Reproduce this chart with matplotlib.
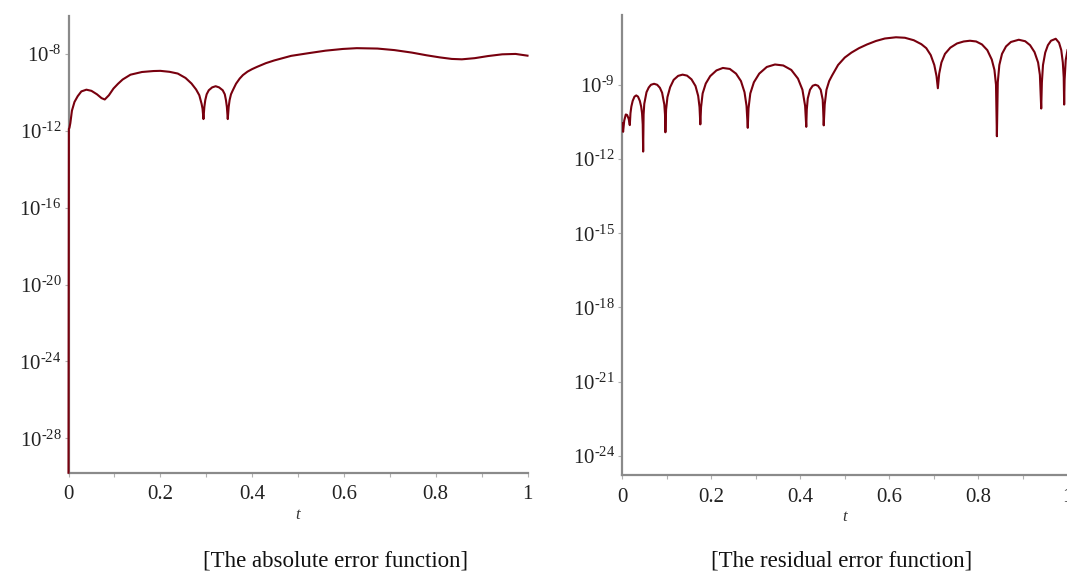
import matplotlib
matplotlib.use("Agg")
import matplotlib.pyplot as plt
import numpy as np

plt.rcParams['font.family'] = ['Liberation Serif', 'DejaVu Serif']
plt.rcParams['mathtext.fontset'] = 'custom'
plt.rcParams['mathtext.rm'] = 'Liberation Serif'
plt.rcParams['mathtext.it'] = 'Liberation Serif:italic'

# ---- data: t and log10 of the error ----
abs_t = [0.0, 0.0008, 0.002, 0.004, 0.0075, 0.013, 0.020, 0.028, 0.039, 0.050,
         0.062, 0.072, 0.079, 0.088, 0.098, 0.108, 0.118, 0.135, 0.160, 0.185,
         0.200, 0.220, 0.238, 0.255, 0.268, 0.278, 0.285, 0.290, 0.292, 0.294,
         0.296, 0.298, 0.301, 0.3056, 0.313, 0.3206, 0.328, 0.336, 0.3405, 0.343,
         0.345, 0.347, 0.349, 0.351, 0.354, 0.358, 0.365, 0.373, 0.380, 0.390,
         0.400, 0.411, 0.430, 0.448, 0.485, 0.523, 0.560, 0.598, 0.628, 0.673,
         0.710, 0.748, 0.780, 0.809, 0.835, 0.857, 0.885, 0.914, 0.945, 0.974, 1.0]
abs_log = [-29.79, -11.9, -11.85, -11.6, -10.95, -10.5, -10.2, -9.95, -9.86, -9.92,
           -10.1, -10.3, -10.37, -10.15, -9.8, -9.55, -9.33, -9.08, -8.94, -8.89,
           -8.88, -8.93, -9.02, -9.25, -9.54, -9.85, -10.15, -10.6, -10.85, -11.39,
           -10.75, -10.4, -10.1, -9.89, -9.74, -9.68, -9.74, -9.89, -10.1, -10.4,
           -10.75, -11.39, -10.75, -10.4, -10.1, -9.89, -9.55, -9.28, -9.1, -8.92,
           -8.79, -8.67, -8.48, -8.34, -8.1, -7.96, -7.83, -7.74, -7.70, -7.72,
           -7.80, -7.93, -8.07, -8.18, -8.26, -8.28, -8.22, -8.11, -8.02, -8.0, -8.09]

res_t = [0.000, 0.0025, 0.005, 0.0085, 0.0115, 0.015, 0.0175,
         0.019, 0.021, 0.024, 0.028, 0.032, 0.036, 0.040, 0.043, 0.045, 0.0465, 0.0475,
         0.0485, 0.050, 0.055, 0.060, 0.065, 0.072, 0.079, 0.085, 0.090, 0.095, 0.0965, 0.0974,
         0.099, 0.102, 0.108, 0.116, 0.126, 0.136, 0.146, 0.156, 0.165, 0.171, 0.174, 0.1758,
         0.1775, 0.181, 0.188, 0.198, 0.212, 0.2264, 0.242, 0.256, 0.267, 0.275, 0.2795, 0.2823,
         0.284, 0.288, 0.296, 0.308, 0.325, 0.3434, 0.362, 0.380, 0.395, 0.405, 0.411, 0.4136,
         0.4148, 0.417, 0.422, 0.428, 0.434, 0.440, 0.446, 0.4505, 0.4515, 0.4528,
         0.455, 0.459, 0.465, 0.4717, 0.485, 0.500, 0.515, 0.532, 0.550, 0.570, 0.590, 0.615,
         0.635, 0.655, 0.672, 0.683, 0.693, 0.701, 0.706, 0.709,
         0.712, 0.717, 0.725, 0.737, 0.752, 0.767, 0.781, 0.795, 0.808, 0.820, 0.830, 0.836,
         0.8395, 0.8415,
         0.8435, 0.847, 0.853, 0.862, 0.873, 0.8906, 0.905, 0.916, 0.926, 0.934, 0.938, 0.941,
         0.9425, 0.945, 0.950, 0.956, 0.963, 0.9736, 0.981, 0.986, 0.9895, 0.9915, 0.9925,
         0.9935, 0.996, 1.0]
res_log = [-10.55, -10.9, -10.45, -10.2, -10.22, -10.38, -10.63,
           -10.15, -9.88, -9.65, -9.48, -9.43, -9.48, -9.65, -9.88, -10.15, -10.6, -11.7,
           -10.2, -9.77, -9.3, -9.11, -9.0, -8.96, -9.0, -9.12, -9.32, -9.8, -10.2, -10.92,
           -10.0, -9.5, -9.1, -8.8, -8.64, -8.59, -8.63, -8.78, -9.05, -9.45, -9.9, -10.6,
           -9.9, -9.35, -8.95, -8.65, -8.42, -8.32, -8.36, -8.55, -8.85, -9.3, -9.85, -10.74,
           -9.95, -9.35, -8.9, -8.55, -8.28, -8.18, -8.22, -8.4, -8.75, -9.2, -9.85, -10.7,
           -10.0, -9.55, -9.2, -9.04, -9.0, -9.04, -9.2, -9.6, -10.0, -10.64,
           -9.8, -9.2, -8.85, -8.62, -8.2, -7.9, -7.7, -7.52, -7.37, -7.23, -7.13, -7.08,
           -7.1, -7.2, -7.36, -7.52, -7.8, -8.2, -8.65, -9.14,
           -8.55, -8.1, -7.75, -7.5, -7.33, -7.25, -7.22, -7.25, -7.37, -7.6, -7.98, -8.4,
           -9.0, -11.08,
           -8.9, -8.2, -7.75, -7.45, -7.27, -7.18, -7.24, -7.4, -7.68, -8.1, -8.6, -9.96,
           -8.9, -8.2, -7.7, -7.4, -7.22, -7.14, -7.3, -7.6, -8.1, -8.7, -9.8,
           -8.8, -8.0, -7.6]

x_ticks = [0, 0.2, 0.4, 0.6, 0.8, 1]
x_tick_labels = ['0', '0.2', '0.4', '0.6', '0.8', '1']
x_minor = [0.1, 0.3, 0.5, 0.7, 0.9]
abs_exponents = [-28, -24, -20, -16, -12, -8]
res_exponents = [-24, -21, -18, -15, -12, -9]
captions = ['[The absolute error function]', '[The residual error function]']
x_label = 't'

LINE = '#78000e'
AXC = '#8a8a8a'

fig = plt.figure(figsize=(10.67, 5.72), dpi=100)
ax1 = fig.add_axes([68.5 / 1067, 1 - 472.7 / 572, 459 / 1067, (472.7 - 15.5) / 572])
ax2 = fig.add_axes([622 / 1067, 1 - 475 / 572, 445.5 / 1067, (475 - 15) / 572])


def style(ax, t, lg, exps, ylim, clip):
    ax.plot(t, [10.0 ** v for v in lg], color=LINE, lw=1.5, zorder=3,
            solid_joinstyle='round', clip_on=clip)
    ax.set_yscale('log')
    ax.set_xlim(0, 1)
    ax.set_ylim(10.0 ** ylim[0], 10.0 ** ylim[1])
    for s in ['top', 'right']:
        ax.spines[s].set_visible(False)
    for s in ['left', 'bottom']:
        ax.spines[s].set_color(AXC)
        ax.spines[s].set_linewidth(1.6)
    ax.set_xticks(x_ticks)
    ax.set_xticklabels(x_tick_labels)
    ax.set_xticks(x_minor, minor=True)
    ax.set_yticks([10.0 ** e for e in exps])
    ax.set_yticklabels([r'$10^{\text{-}%d}$' % (-e) for e in exps])
    ax.yaxis.set_minor_locator(matplotlib.ticker.NullLocator())
    ax.tick_params(axis='x', which='both', direction='out', length=3, width=0.8,
                   color='#b0b0b0', labelsize=15, pad=6, labelcolor='#222222')
    ax.tick_params(axis='y', which='both', direction='out', length=3, width=0.8,
                   color='#b0b0b0', labelsize=15, pad=2, labelcolor='#222222')
    ax.set_xlabel(x_label, fontsize=12, fontstyle='italic', labelpad=2, color='#333333')
    ax.patch.set_alpha(0)


style(ax1, abs_t, abs_log, abs_exponents, (-29.79, -6.0), False)
style(ax2, res_t, res_log, res_exponents, (-24.77, -6.18), True)

fig.text(336 / 1067, 1 - 561 / 572, captions[0], ha='center', va='center',
         fontsize=16.5, color='#111111')
fig.text(842 / 1067, 1 - 561 / 572, captions[1], ha='center', va='center',
         fontsize=16.5, color='#111111')

fig.savefig('out.png', dpi=100)
